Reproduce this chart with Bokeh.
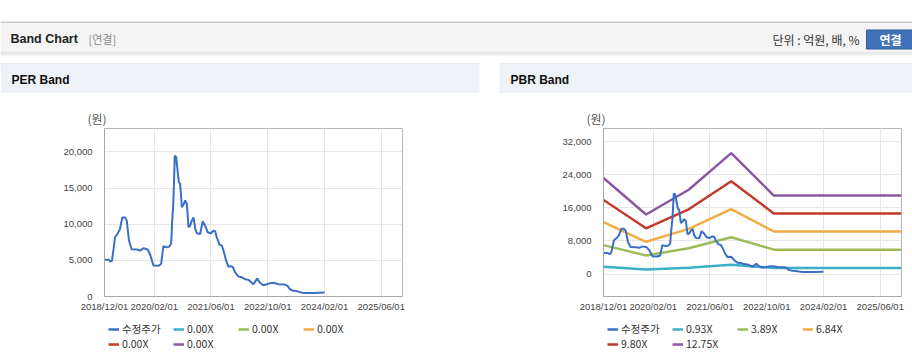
import pandas as pd
from datetime import datetime
from bokeh.plotting import figure
from bokeh.models import (Range1d, FixedTicker, SingleIntervalTicker, NumeralTickFormatter,
                          DatetimeTickFormatter, Legend, LegendItem, Spacer)
from bokeh.layouts import column, row
from bokeh.embed import file_html
from bokeh.resources import INLINE
from bokeh.core.properties import value

# ---------------- data ----------------
tick_labels = ["2018/12/01", "2020/02/01", "2021/06/01", "2022/10/01", "2024/02/01", "2025/06/01"]

price_label = "수정주가"
price_dates = ["2018-12-01", "2019-01-05", "2019-01-19", "2019-02-03", "2019-02-17", "2019-03-01",
               "2019-03-21", "2019-04-13", "2019-05-03", "2019-05-26", "2019-06-10", "2019-06-29",
               "2019-07-22", "2019-09-04", "2019-10-03", "2019-11-01", "2019-12-05", "2019-12-28",
               "2020-01-25", "2020-03-07", "2020-03-31", "2020-04-19", "2020-05-19", "2020-06-10",
               "2020-06-25", "2020-07-04", "2020-07-15", "2020-07-26", "2020-08-07", "2020-08-19",
               "2020-08-30", "2020-09-10", "2020-09-25", "2020-10-09", "2020-10-23", "2020-11-07",
               "2020-11-21", "2020-12-05", "2020-12-19", "2021-01-03", "2021-01-18", "2021-02-01",
               "2021-03-01", "2021-03-22", "2021-04-12", "2021-05-04", "2021-06-01", "2021-06-22",
               "2021-07-07", "2021-07-21", "2021-08-13", "2021-09-03", "2021-09-17", "2021-10-10",
               "2021-10-30", "2021-11-19", "2021-12-07", "2021-12-26", "2022-01-24", "2022-02-22",
               "2022-03-21", "2022-04-19", "2022-05-16", "2022-06-01", "2022-06-15", "2022-07-04",
               "2022-07-27", "2022-08-25", "2022-09-24", "2022-10-22", "2022-11-20", "2022-12-12",
               "2023-01-02", "2023-02-28", "2023-03-19", "2023-04-10", "2023-05-10", "2023-06-07",
               "2023-07-06", "2023-08-04", "2023-10-28", "2024-02-01"]
price_values = [5100, 5100, 4850, 4950, 6600, 8200, 8650, 9350, 10950, 10950, 10500, 7750,
                6550, 6500, 6350, 6700, 6500, 5800, 4300, 4250, 4500, 6950, 6800, 6900,
                7350, 10500, 13500, 19500, 19300, 17450, 15800, 15600, 12350, 12700, 13300, 12800,
                9600, 9800, 10500, 10950, 9350, 8750, 8650, 10400, 9800, 8900, 8750, 9100,
                9050, 8200, 7200, 7050, 6350, 4950, 4100, 4200, 4050, 3350, 2750, 2650,
                2400, 2300, 1950, 1700, 2050, 2500, 1900, 1550, 1700, 1850, 1900, 1800,
                1700, 1650, 1500, 1000, 800, 750, 600, 500, 500, 550]

per_band_labels = ["0.00X", "0.00X", "0.00X", "0.00X", "0.00X"]

pbr_band_dates = ["2018-12-01", "2019-12-01", "2020-12-01", "2021-12-01", "2022-12-01", "2025-12-01"]
pbr_band_labels = ["0.93X", "3.89X", "6.84X", "9.80X", "12.75X"]
pbr_band_093 = [1780, 1120, 1490, 2220, 1470, 1470]
pbr_band_389 = [7000, 4500, 6230, 8900, 5900, 5900]
pbr_band_684 = [12600, 7800, 10950, 15700, 10300, 10300]
pbr_band_980 = [17950, 11080, 15680, 22480, 14680, 14680]
pbr_band_1275 = [23270, 14410, 20420, 29300, 19020, 19020]

# ---------------- style ----------------
PRICE_COLOR = "#3a6fc7"
BAND_COLORS = ["#3bafc8", "#9bbb59", "#f2ab45", "#c3392c", "#8a58a3"]
KFONT = "Noto Sans CJK KR"
LFONT = "Liberation Sans"

px_dates = pd.to_datetime(price_dates)
band_dt = pd.to_datetime(pbr_band_dates)
tick_ms = [int(pd.Timestamp(t.replace("/", "-")).timestamp() * 1000) for t in tick_labels]
fmt = "%Y/%m/%d"


def deco_fig(width, height, x0, y0, bl=0, br=0):
    p = figure(width=width, height=height, x_range=Range1d(x0, x0 + width),
               y_range=Range1d(y0 + height, y0), x_axis_type=None, y_axis_type=None,
               output_backend="svg", toolbar_location=None, min_border=0,
               min_border_left=bl, min_border_right=br, min_border_top=0, min_border_bottom=0)
    p.outline_line_color = None
    p.background_fill_color = "white"
    p.border_fill_color = "white"
    return p


def chart_fig(width, bl, br, y0, y1, step):
    p = figure(width=width, height=223, x_axis_type="datetime",
               x_range=Range1d(datetime(2018, 12, 1), datetime(2025, 12, 1)),
               y_range=Range1d(y0, y1), output_backend="svg", toolbar_location=None,
               min_border_left=bl, min_border_right=br, min_border_top=35, min_border_bottom=20,
               title="(원)")
    p.background_fill_color = "white"
    p.border_fill_color = "white"
    p.outline_line_color = "#b8b8b8"
    p.xaxis.ticker = FixedTicker(ticks=tick_ms)
    p.xaxis.formatter = DatetimeTickFormatter(
        milliseconds=fmt, seconds=fmt, minsec=fmt, minutes=fmt, hourmin=fmt, hours=fmt,
        days=fmt, months=fmt, years=fmt)
    p.yaxis.ticker = SingleIntervalTicker(interval=step)
    p.yaxis.formatter = NumeralTickFormatter(format="0,0")
    for ax in (p.xaxis[0], p.yaxis[0]):
        ax.axis_line_color = "#a8a8a8"
        ax.major_tick_line_color = None
        ax.minor_tick_line_color = None
        ax.major_tick_out = 0
        ax.major_tick_in = 0
        ax.minor_tick_out = 0
        ax.minor_tick_in = 0
        ax.major_label_text_font = LFONT
        ax.major_label_text_font_size = "9.5px"
        ax.major_label_text_color = "#444444"
    p.xaxis.major_label_standoff = 4
    p.yaxis.major_label_standoff = 12
    p.xgrid.grid_line_color = "#e6e6e6"
    p.ygrid.grid_line_color = "#e6e6e6"
    p.title.align = "left"
    p.title.offset = -17
    p.title.standoff = 3
    p.title.text_font = KFONT
    p.title.text_font_style = "normal"
    p.title.text_font_size = "12px"
    p.title.text_color = "#555555"
    return p


def legend_fig(width, bl, br, x0, labels, colors):
    # a small figure that only carries the legend under a chart (proxy renderers hold no visible data)
    p = deco_fig(width, 45, x0, 316, bl, br)
    nan = float("nan")
    rends = [p.line(x=[nan], y=[nan], line_color=c, line_width=2.5) for c in colors]
    rows = [(rends[:4], labels[:4], 25), (rends[4:], labels[4:], 10)]
    for rr, ll, vy in rows:
        items = [LegendItem(label=lab, renderers=[r]) for r, lab in zip(rr, ll)]
        lg = Legend(items=items, location=(4, vy), orientation="horizontal",
                    border_line_color=None, background_fill_alpha=0,
                    padding=0, margin=0, spacing=0, glyph_width=11, glyph_height=12,
                    label_height=12, label_width=51, label_standoff=3, label_text_font=KFONT,
                    label_text_font_size="10.5px", label_text_color="#333333")
        p.add_layout(lg, "center")
    return p


# ---------------- header + panel title bands ----------------
hdr = deco_fig(912, 93, 0, 0)
hdr.quad(left=[0], right=[912], top=[21], bottom=[22.5], fill_color="#c9c9c9", line_color=None)
hdr.quad(left=[0], right=[912], top=[22.5], bottom=[52], fill_color="#f4f4f4", line_color=None)
hdr.quad(left=[0], right=[912], top=[52], bottom=[53], fill_color="#cfcfcf", line_color=None)
hdr.quad(left=[0], right=[912], top=[53], bottom=[55], fill_color="#ececec", line_color=None)
hdr.text(x=[10], y=[38], text=["Band Chart"], text_font=value(LFONT), text_font_style="bold",
         text_font_size="12.5px", text_color="#222222", text_baseline="middle")
hdr.text(x=[88], y=[38.5], text=["[연결]"], text_font=value(KFONT), text_font_size="11px",
         text_color="#8a8a8a", text_baseline="middle")
hdr.text(x=[859], y=[39], text=["단위 : 억원, 배, %"], text_font=value(KFONT),
         text_font_size="12px", text_color="#333333", text_baseline="middle", text_align="right")
hdr.quad(left=[866], right=[913], top=[29.5], bottom=[48.5], fill_color="#3f72b8",
         line_color="#2f5e9e", line_width=1)
hdr.text(x=[890], y=[39], text=["연결"], text_font=value(KFONT), text_font_style="bold",
         text_font_size="12px", text_color="white", text_baseline="middle", text_align="center")
for x0, x1, lab in [(0, 479, "PER Band"), (499, 912, "PBR Band")]:
    hdr.quad(left=[x0], right=[x1], top=[63], bottom=[64], fill_color="#d6d9dd", line_color=None)
    hdr.quad(left=[x0], right=[x1], top=[64], bottom=[93], fill_color="#eef2f7", line_color=None)
    hdr.text(x=[x0 + 11], y=[79.5], text=[lab], text_font=value(LFONT), text_font_style="bold",
             text_font_size="12px", text_color="#111111", text_baseline="middle")

legend_colors = [PRICE_COLOR] + BAND_COLORS

# ---------------- PER panel ----------------
per = chart_fig(479, 104, 77, 0, 23250, 5000)
per.line(px_dates, price_values, line_color=PRICE_COLOR, line_width=2)
per_leg = legend_fig(479, 104, 77, 0, [price_label] + per_band_labels, legend_colors)

# ---------------- PBR panel ----------------
pbr = chart_fig(413, 104, 11, -5450, 35260, 8000)
band_series = [pbr_band_093, pbr_band_389, pbr_band_684, pbr_band_980, pbr_band_1275]
for vals, c in zip(band_series, BAND_COLORS):
    pbr.line(band_dt, vals, line_color=c, line_width=2.5)
pbr.line(px_dates, price_values, line_color=PRICE_COLOR, line_width=2)
pbr_leg = legend_fig(413, 104, 11, 499, [price_label] + pbr_band_labels, legend_colors)

# ---------------- footer lines ----------------
ftr = deco_fig(912, 3, 0, 361)
for x0, x1 in [(0, 479), (499, 912)]:
    ftr.quad(left=[x0], right=[x1], top=[361.5], bottom=[362.5], fill_color="#d4d4d4", line_color=None)

left_col = column(per, per_leg, spacing=0)
right_col = column(pbr, pbr_leg, spacing=0)
body = row(left_col, Spacer(width=20, height=268), right_col, spacing=0)
page = column(hdr, body, ftr, spacing=0)

open("out.html", "w").write(file_html(page, INLINE, title="Band Chart"))
